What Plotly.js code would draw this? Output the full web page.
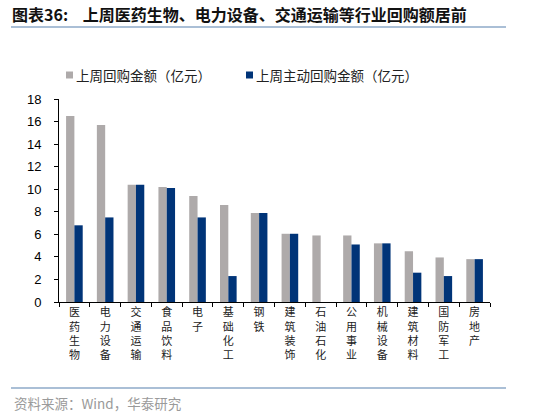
<!DOCTYPE html>
<html><head><meta charset="utf-8">
<script src="https://cdn.plot.ly/plotly-3.0.1.min.js"></script>
<style>html,body{margin:0;padding:0;background:#fff}#c{width:550px;height:416px}</style>
</head><body><div id="c"></div>
<script>
var categories = ["医药生物","电力设备","交通运输","食品饮料","电子","基础化工","钢铁","建筑装饰","石油石化","公用事业","机械设备","建筑材料","国防军工","房地产"];
var totalRepurchase = [16.5,15.7,10.4,10.2,9.4,8.6,7.9,6.05,5.9,5.9,5.2,4.5,3.95,3.8];
var activeRepurchase = [6.8,7.5,10.4,10.1,7.5,2.3,7.9,6.05,0,5.1,5.2,2.6,2.3,3.8];
var seriesNames = ["上周回购金额（亿元）","上周主动回购金额（亿元）"];
var seriesColors = ["#aeaaaa","#003478"];
var yTicks = [0,2,4,6,8,10,12,14,16,18];

var cjk = "'Noto Sans CJK SC', 'Liberation Sans', sans-serif";
var tickText = categories.map(function(c){return c.split("").join("<br>");});
var W = 431, H = 203; // plot area px
function px(x){return (x-59)/W;}
function py(y){return (302-y)/H;}

var data = [
  {type:"bar", name:seriesNames[0], x:categories, y:totalRepurchase, marker:{color:seriesColors[0]}},
  {type:"bar", name:seriesNames[1], x:categories, y:activeRepurchase, marker:{color:seriesColors[1]}}
];
var legendX = [66, 246];
var shapes = [
  {type:"line", xref:"paper", yref:"paper", x0:px(11), x1:px(506), y0:py(27), y1:py(27),
   line:{color:"#8eaac8", width:1.5}},
  {type:"line", xref:"paper", yref:"paper", x0:px(11), x1:px(506), y0:py(388), y1:py(388),
   line:{color:"#8eaac8", width:1.5}}
];
var annotations = [
  {text:"资料来源：Wind，华泰研究", xref:"paper", yref:"paper", x:px(12), xanchor:"left",
   y:py(403), yanchor:"middle", showarrow:false,
   font:{family:cjk, size:13.5, color:"#9a9a9a"}}
];
seriesNames.forEach(function(n,i){
  shapes.push({type:"rect", xref:"paper", yref:"paper", x0:px(legendX[i]), x1:px(legendX[i]+7),
    y0:py(71.5), y1:py(78.5), fillcolor:seriesColors[i], line:{width:0}});
  annotations.push({text:n, xref:"paper", yref:"paper", x:px(legendX[i]+8), xanchor:"left",
    y:py(75), yanchor:"middle", showarrow:false, font:{family:cjk, size:13.5, color:"#222"}});
});

var layout = {
  width:550, height:416,
  margin:{l:59, r:60, t:99, b:114},
  paper_bgcolor:"#fff", plot_bgcolor:"#fff",
  barmode:"group", bargap:0.46, bargroupgap:0,
  showlegend:false,
  title:{text:"<b>图表36:&nbsp;&nbsp;&nbsp;&nbsp;上周医药生物、电力设备、交通运输等行业回购额居前</b>",
         x:0.022, xanchor:"left", y:0.962, yanchor:"middle",
         font:{family:cjk, size:16, color:"#111"}},
  xaxis:{type:"category", tickvals:categories, ticktext:tickText, tickson:"boundaries",
         ticks:"outside", ticklen:4, tickcolor:"#000", showline:true, linecolor:"#000", linewidth:1,
         showgrid:false, tickangle:0, tickfont:{family:cjk, size:11, color:"#222"}},
  yaxis:{range:[0,18], tickvals:yTicks, ticks:"outside", ticklen:4, tickcolor:"#000",
         showline:true, linecolor:"#000", linewidth:1, showgrid:false, zeroline:false,
         ticklabelstandoff:10,
         tickfont:{family:"'Liberation Sans', Arial, sans-serif", size:13, color:"#000"}},
  shapes:shapes,
  annotations:annotations
};
Plotly.newPlot("c", data, layout, {displayModeBar:false, staticPlot:true});
</script></body></html>
